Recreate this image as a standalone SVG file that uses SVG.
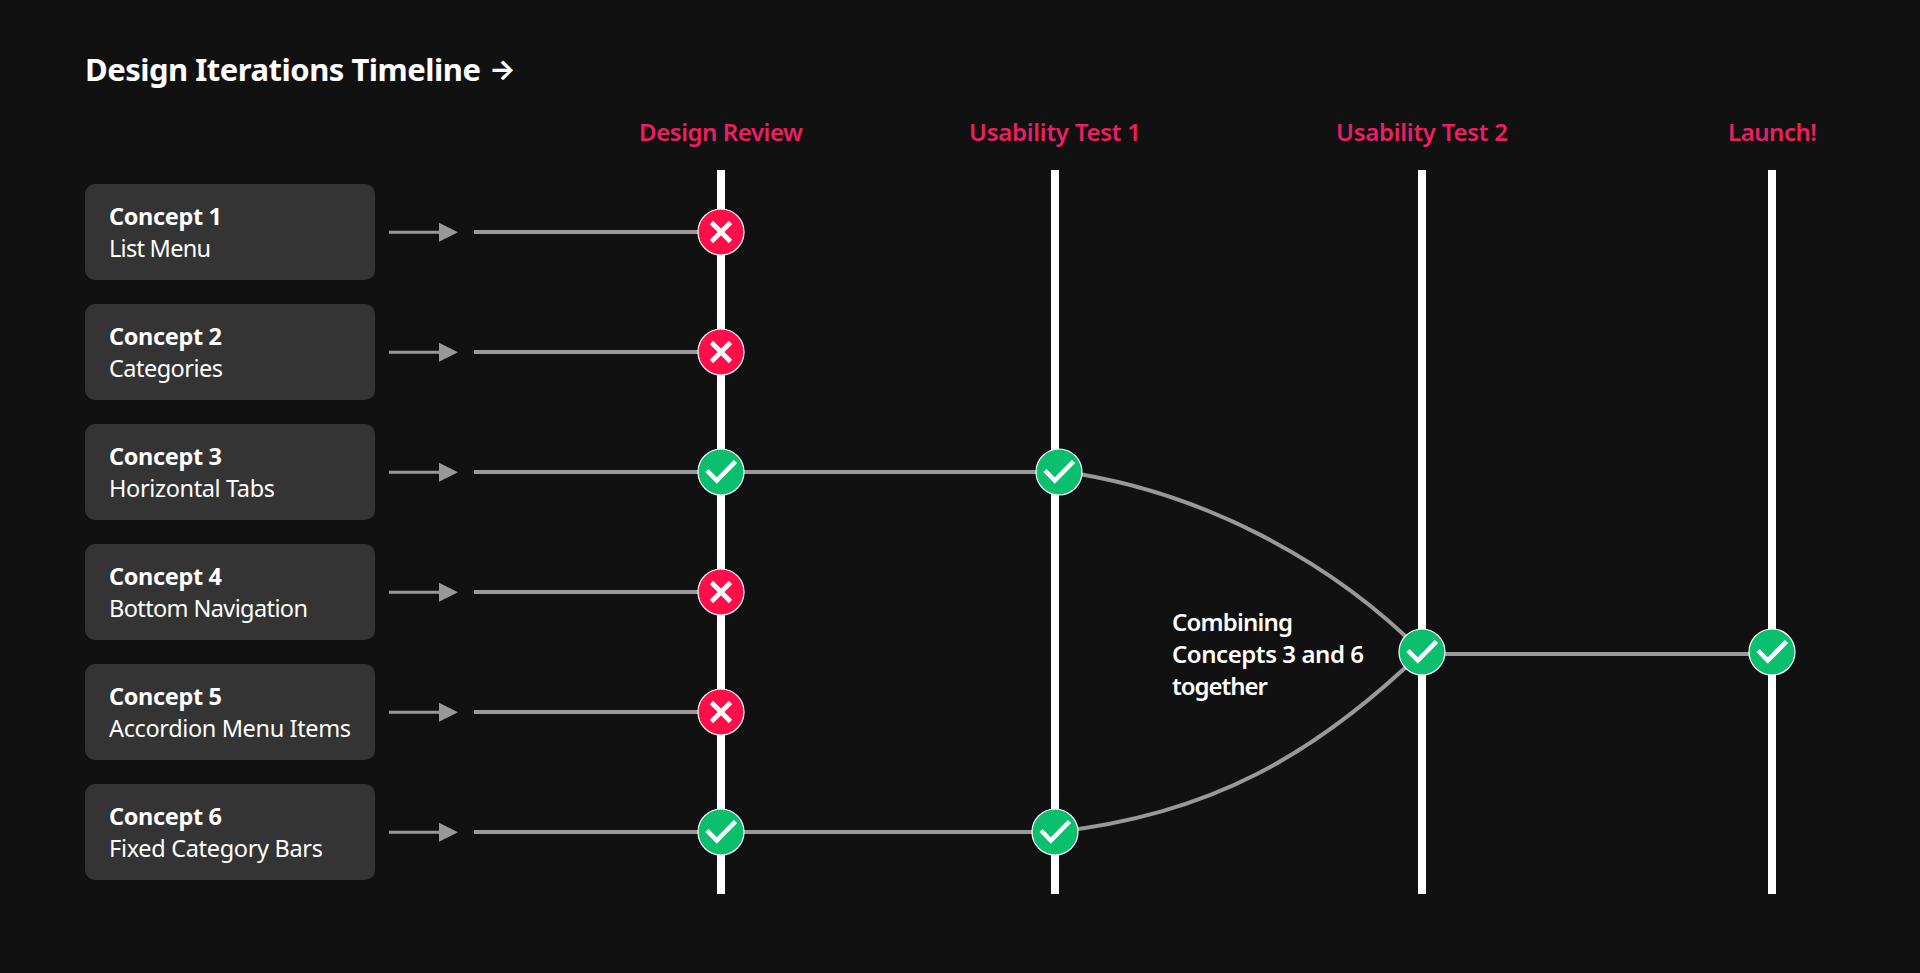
<svg xmlns="http://www.w3.org/2000/svg" width="1920" height="973" viewBox="0 0 1920 973">
<defs>
<style>
text{font-family:"Noto Sans","Open Sans","Liberation Sans",sans-serif;fill:#fff}
.title{font-size:31px;font-weight:700}
.glyph{font-family:"Inter","DejaVu Sans",sans-serif;font-size:28px;font-weight:700}
.head{font-size:24px;font-weight:600;fill:#ea1f64}
.note{font-size:24px;font-weight:600;fill:#fff}
.b{font-size:23.5px;font-weight:700}
.r{font-size:23.5px;font-weight:400}
.card{fill:#343434}
.bar{fill:#fff}
.ln{stroke:#999;stroke-width:4;fill:none}
.ar{stroke:#999;stroke-width:3;fill:none}
.hd{fill:#999}
.ok{fill:#0cbf6f;stroke:#fff;stroke-width:1.2}
.no{fill:#ff0f4a;stroke:#fff;stroke-width:1.2}
.mk{stroke:#fff;stroke-width:4.6;fill:none}
</style>
<g id="tick"><path class="mk" d="M-14-1.500-4.200 8.500 14.500-10.500"/></g>
<g id="cross"><path class="mk" d="M-9.500-9.500 9.500 9.500M9.500-9.500-9.500 9.500"/></g>
</defs>
<rect width="1920" height="973" fill="#111"/>
<text class="title" y="81"><tspan x="85" textLength="396">Design Iterations Timeline</tspan> <tspan class="glyph" x="489" y="79">→</tspan></text>
<g id="headers">
<text class="head" x="639" y="141" textLength="164">Design Review</text>
<text class="head" x="969" y="141" textLength="172">Usability Test 1</text>
<text class="head" x="1336" y="141" textLength="172">Usability Test 2</text>
<text class="head" x="1728" y="141" textLength="89">Launch!</text>
</g>
<g id="bars">
<rect class="bar" x="717" y="170" width="8" height="724"/>
<rect class="bar" x="1051" y="170" width="8" height="724"/>
<rect class="bar" x="1418" y="170" width="8" height="724"/>
<rect class="bar" x="1768" y="170" width="8" height="724"/>
</g>
<g id="connectors">
<path class="ar" d="M389 232.300H440M389 352.300H440M389 472.300H440M389 592.300H440M389 712.300H440M389 832.300H440"/>
<path class="hd" d="M439 222.800 458 232.300 439 241.800ZM439 342.800 458 352.300 439 361.800ZM439 462.800 458 472.300 439 481.800ZM439 582.800 458 592.300 439 601.800ZM439 702.800 458 712.300 439 721.800ZM439 822.800 458 832.300 439 841.800Z"/>
<path class="ln" d="M474 232H721M474 352H721M474 472H1059M474 592H721M474 712H721M474 832H1055M1422 654H1772"/>
<path class="ln" d="M1059 471C1200 490 1330 560 1422 652"/>
<path class="ln" d="M1055 832C1210 815 1315 755 1422 652"/>
</g>
<g id="concept-1"><rect class="card" x="85" y="184" width="290" height="96" rx="10"/><text class="b" x="109" y="225" textLength="113">Concept 1</text><text class="r" x="109" y="257" textLength="102">List Menu</text></g>
<g id="concept-2"><rect class="card" x="85" y="304" width="290" height="96" rx="10"/><text class="b" x="109" y="345" textLength="113">Concept 2</text><text class="r" x="109" y="377" textLength="114">Categories</text></g>
<g id="concept-3"><rect class="card" x="85" y="424" width="290" height="96" rx="10"/><text class="b" x="109" y="465" textLength="113">Concept 3</text><text class="r" x="109" y="497" textLength="166">Horizontal Tabs</text></g>
<g id="concept-4"><rect class="card" x="85" y="544" width="290" height="96" rx="10"/><text class="b" x="109" y="585" textLength="113">Concept 4</text><text class="r" x="109" y="617" textLength="199">Bottom Navigation</text></g>
<g id="concept-5"><rect class="card" x="85" y="664" width="290" height="96" rx="10"/><text class="b" x="109" y="705" textLength="113">Concept 5</text><text class="r" x="109" y="737" textLength="242">Accordion Menu Items</text></g>
<g id="concept-6"><rect class="card" x="85" y="784" width="290" height="96" rx="10"/><text class="b" x="109" y="825" textLength="113">Concept 6</text><text class="r" x="109" y="857" textLength="214">Fixed Category Bars</text></g>
<g id="review-1"><circle class="no" cx="721" cy="232" r="23"/><use href="#cross" x="721" y="232"/></g>
<g id="review-2"><circle class="no" cx="721" cy="352" r="23"/><use href="#cross" x="721" y="352"/></g>
<g id="review-3"><circle class="ok" cx="721" cy="472" r="23"/><use href="#tick" x="721" y="472"/></g>
<g id="review-4"><circle class="no" cx="721" cy="592" r="23"/><use href="#cross" x="721" y="592"/></g>
<g id="review-5"><circle class="no" cx="721" cy="712" r="23"/><use href="#cross" x="721" y="712"/></g>
<g id="review-6"><circle class="ok" cx="721" cy="832" r="23"/><use href="#tick" x="721" y="832"/></g>
<g id="test1-3"><circle class="ok" cx="1059" cy="472" r="23"/><use href="#tick" x="1059" y="472"/></g>
<g id="test1-6"><circle class="ok" cx="1055" cy="832" r="23"/><use href="#tick" x="1055" y="832"/></g>
<g id="test2"><circle class="ok" cx="1422" cy="652" r="23"/><use href="#tick" x="1422" y="652"/></g>
<g id="launch"><circle class="ok" cx="1772" cy="652" r="23"/><use href="#tick" x="1772" y="652"/></g>
<g id="note">
<text class="note" x="1172" y="631" textLength="121">Combining</text>
<text class="note" x="1172" y="663" textLength="192">Concepts 3 and 6</text>
<text class="note" x="1172" y="695" textLength="96">together</text>
</g>
</svg>
